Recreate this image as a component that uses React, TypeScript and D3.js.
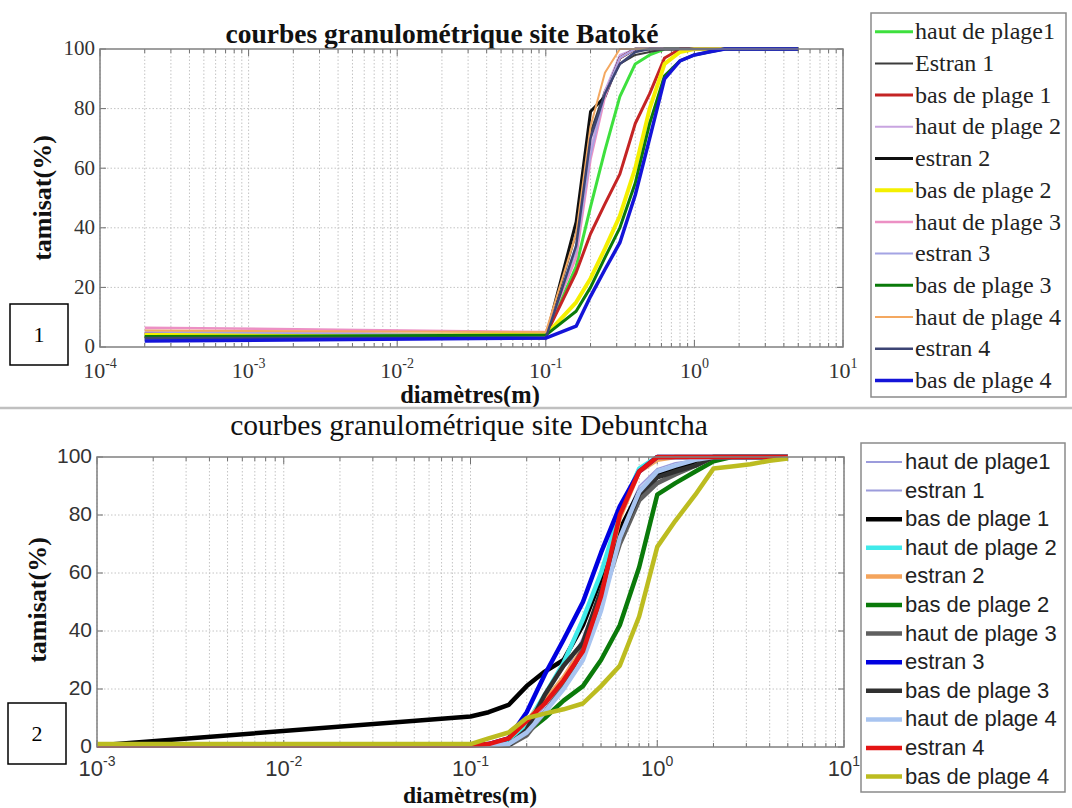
import React from "react";
import * as d3 from "d3";

// ---------- Chart 1 : Batoké ----------
const sieves1 = [0.0002, 0.1, 0.16, 0.2, 0.25, 0.315, 0.4, 0.5, 0.63, 0.8, 1, 1.25, 1.6, 2, 2.5, 3.15, 4, 5];
const names1 = ["haut de plage1", "Estran 1", "bas de plage 1", "haut de plage 2", "estran 2", "bas de plage 2", "haut de plage 3", "estran 3", "bas de plage 3", "haut de plage 4", "estran 4", "bas de plage 4"];
const colors1 = ["#3ee03e", "#3c3c3c", "#c42424", "#c8a4e0", "#101010", "#f4f000", "#ec90c4", "#a4a4e4", "#0a7a0a", "#f4a860", "#3c4474", "#1414d8"];
const widths1 = [3, 2, 3, 2, 3, 4, 2.5, 1.5, 3, 2, 2.5, 3.5];
const hautPlage1_1 = [4, 4, 27, 47, 66, 84, 95, 98, 100, 100, 100, 100, 100, 100, 100, 100, 100, 100];
const estran1_1 = [3.5, 3.5, 38, 72, 86, 95, 98, 99, 100, 100, 100, 100, 100, 100, 100, 100, 100, 100];
const basPlage1_1 = [4.5, 4, 25, 38, 48, 58, 75, 85, 97, 100, 100, 100, 100, 100, 100, 100, 100, 100];
const hautPlage2_1 = [5.5, 4, 33, 66, 86, 98, 100, 100, 100, 100, 100, 100, 100, 100, 100, 100, 100, 100];
const estran2_1 = [3, 3, 42, 79, 84, 97, 100, 100, 100, 100, 100, 100, 100, 100, 100, 100, 100, 100];
const basPlage2_1 = [4, 4, 15, 23, 33, 44, 60, 80, 95, 99, 100, 100, 100, 100, 100, 100, 100, 100];
const hautPlage3_1 = [6.5, 5, 30, 63, 84, 97, 100, 100, 100, 100, 100, 100, 100, 100, 100, 100, 100, 100];
const estran3_1 = [5, 4, 32, 64, 85, 97, 100, 100, 100, 100, 100, 100, 100, 100, 100, 100, 100, 100];
const basPlage3_1 = [3.5, 4, 12, 20, 30, 40, 55, 75, 91, 96, 98, 99, 100, 100, 100, 100, 100, 100];
const hautPlage4_1 = [5.5, 5, 38, 74, 92, 100, 100, 100, 100, 100, 100, 100, 100, 100, 100, 100, 100, 100];
const estran4_1 = [3, 3, 34, 70, 85, 95, 99, 100, 100, 100, 100, 100, 100, 100, 100, 100, 100, 100];
const basPlage4_1 = [2, 3, 7, 17, 26, 35, 51, 70, 90, 96, 98, 99, 100, 100, 100, 100, 100, 100];
const values1 = [hautPlage1_1, estran1_1, basPlage1_1, hautPlage2_1, estran2_1, basPlage2_1, hautPlage3_1, estran3_1, basPlage3_1, hautPlage4_1, estran4_1, basPlage4_1];

// ---------- Chart 2 : Debuntcha ----------
const sieves2 = [0.001, 0.1, 0.125, 0.16, 0.2, 0.25, 0.315, 0.4, 0.5, 0.63, 0.8, 1, 1.25, 1.6, 2, 2.5, 3.15, 4, 5];
const names2 = ["haut de plage1", "estran 1", "bas de plage 1", "haut de plage 2", "estran 2", "bas de plage 2", "haut de plage 3", "estran 3", "bas de plage 3", "haut de plage 4", "estran 4", "bas de plage 4"];
const colors2 = ["#9c9cdc", "#9c9cdc", "#000000", "#40eaea", "#f4a45c", "#0a7a0a", "#606060", "#0000e0", "#303030", "#a8c4f0", "#e41414", "#bcbc20"];
const widths2 = [1.5, 1.5, 4.5, 4.5, 4.5, 4.5, 4.5, 4.5, 4.5, 4.5, 4.5, 4.5];
const hautPlage1_2 = [0.5, 0.5, 0.5, 1, 6, 14, 24, 38, 54, 75, 90, 96, 98, 99, 100, 100, 100, 100, 100];
const estran1_2 = [0.5, 0.5, 0.5, 1, 5, 13, 22, 36, 52, 73, 89, 95, 97, 99, 100, 100, 100, 100, 100];
const basPlage1_2 = [0.5, 10.5, 12, 14.5, 21, 26, 30, 42, 58, 75, 88, 94, 96, 98, 100, 100, 100, 100, 100];
const hautPlage2_2 = [0.5, 0.5, 1, 2, 8, 18, 29, 44, 60, 81, 96, 100, 100, 100, 100, 100, 100, 100, 100];
const estran2_2 = [0.5, 0.5, 1, 3, 9, 16, 24, 34, 52, 79, 95, 99, 100, 100, 100, 100, 100, 100, 100];
const basPlage2_2 = [0.5, 0.5, 0.5, 1, 5, 10, 16, 21, 30, 42, 62, 87, 91, 95, 98.5, 100, 100, 100, 100];
const hautPlage3_2 = [0.5, 0.5, 0.5, 0.5, 4, 12, 21, 34, 50, 70, 85, 91, 94, 97, 100, 100, 100, 100, 100];
const estran3_2 = [0.5, 0.5, 1, 3, 12, 25, 37, 50, 67, 83, 95, 100, 100, 100, 100, 100, 100, 100, 100];
const basPlage3_2 = [0.5, 0.5, 0.5, 0.5, 6, 18, 28, 36, 54, 72, 87, 93, 95, 97, 100, 100, 100, 100, 100];
const hautPlage4_2 = [0.5, 0.5, 0.5, 1, 5, 12, 20, 30, 47, 72, 88, 95, 97, 99, 100, 100, 100, 100, 100];
const estran4_2 = [0.5, 0.5, 1, 3, 9, 15, 23, 33, 52, 80, 95, 100, 100, 100, 100, 100, 100, 100, 100];
const basPlage4_2 = [1, 1, 3, 5, 10, 11.5, 13, 15, 21, 28, 45, 69, 78, 87, 96, 96.7, 97.5, 98.7, 99.5];
const values2 = [hautPlage1_2, estran1_2, basPlage1_2, hautPlage2_2, estran2_2, basPlage2_2, hautPlage3_2, estran3_2, basPlage3_2, hautPlage4_2, estran4_2, basPlage4_2];

const yTicks = [0, 20, 40, 60, 80, 100];

type PanelProps = {
  x0: number; x1: number; yTop: number; yBot: number;
  dom: [number, number];
  sieves: number[]; values: number[][]; colors: string[]; widths: number[];
  tickFont: string; tickSize: number; expSize: number; tickBase: number;
};

function logTicks(dom: [number, number]) {
  const out: number[] = [];
  const a = Math.round(Math.log10(dom[0]));
  const b = Math.round(Math.log10(dom[1]));
  for (let d = a; d <= b; d++) {
    for (let m = 1; m <= 9; m++) {
      const v = m * Math.pow(10, d);
      if (v >= dom[0] * 0.999 && v <= dom[1] * 1.001) out.push(v);
    }
  }
  return out;
}

function Panel(p: PanelProps) {
  const x = d3.scaleLog().domain(p.dom).range([p.x0, p.x1]);
  const y = d3.scaleLinear().domain([0, 100]).range([p.yBot, p.yTop]);
  const ticks = logTicks(p.dom);
  const majors = ticks.filter((t) => Math.abs(Math.log10(t) - Math.round(Math.log10(t))) < 1e-6);
  const line = d3.line<[number, number]>().x((d) => x(d[0])).y((d) => y(d[1]));
  const grid = "#c4c4c4";
  return (
    <g>
      {ticks.map((t, i) => (
        <line key={"gv" + i} x1={x(t)} x2={x(t)} y1={p.yTop} y2={p.yBot} stroke={grid} strokeWidth={1} strokeDasharray="1.5 2" />
      ))}
      {yTicks.slice(1, -1).map((t, i) => (
        <line key={"gh" + i} x1={p.x0} x2={p.x1} y1={y(t)} y2={y(t)} stroke={grid} strokeWidth={1} strokeDasharray="1.5 2" />
      ))}
      {ticks.map((t, i) => {
        const len = majors.includes(t) ? 7 : 4;
        return (
          <g key={"tk" + i}>
            <line x1={x(t)} x2={x(t)} y1={p.yBot} y2={p.yBot - len} stroke="#707070" />
            <line x1={x(t)} x2={x(t)} y1={p.yTop} y2={p.yTop + len} stroke="#707070" />
          </g>
        );
      })}
      {yTicks.map((t, i) => (
        <g key={"ty" + i}>
          <line x1={p.x0} x2={p.x0 + 6} y1={y(t)} y2={y(t)} stroke="#707070" />
          <line x1={p.x1} x2={p.x1 - 6} y1={y(t)} y2={y(t)} stroke="#707070" />
          <text x={p.x0 - 5} y={y(t) + p.tickSize * 0.3} textAnchor="end" fontFamily={p.tickFont} fontSize={p.tickSize} fill="#333">{t}</text>
        </g>
      ))}
      {majors.map((t, i) => (
        <text key={"tx" + i} x={x(t)} y={p.tickBase} textAnchor="middle" fontFamily={p.tickFont} fontSize={p.tickSize + 1} fill="#333">
          <tspan>10</tspan>
          <tspan dy={-10} fontSize={p.expSize}>{String(Math.round(Math.log10(t)))}</tspan>
        </text>
      ))}
      {p.values.map((vals, i) => (
        <path key={"s" + i} d={line(p.sieves.map((s, j) => [s, vals[j]] as [number, number])) || ""} fill="none" stroke={p.colors[i]} strokeWidth={p.widths[i]} strokeLinejoin="round" />
      ))}
      <rect x={p.x0} y={p.yTop} width={p.x1 - p.x0} height={p.yBot - p.yTop} fill="none" stroke="#808080" strokeWidth={1.5} />
    </g>
  );
}

function Legend(props: { x: number; y: number; w: number; h: number; first: number; step: number; lx0: number; lx1: number; tx: number; names: string[]; colors: string[]; widths: number[]; font: string; size: number }) {
  const p = props;
  return (
    <g>
      <rect x={p.x} y={p.y} width={p.w} height={p.h} fill="#fff" stroke="#8a8a8a" strokeWidth={1.5} />
      {p.names.map((n, i) => {
        const yy = p.first + i * p.step;
        return (
          <g key={i}>
            <line x1={p.lx0} x2={p.lx1} y1={yy} y2={yy} stroke={p.colors[i]} strokeWidth={Math.max(p.widths[i], 2)} />
            <text x={p.tx} y={yy + p.size * 0.32} fontFamily={p.font} fontSize={p.size} fill="#222">{n}</text>
          </g>
        );
      })}
    </g>
  );
}

export default function App() {
  const serif = "'Liberation Serif', 'Times New Roman', serif";
  const sans = "'Liberation Sans', Arial, sans-serif";
  return (
    <svg width={1072} height={808} style={{ position: "absolute", left: 0, top: 0, background: "#fff" }}>
      <rect x={0} y={0} width={1072} height={808} fill="#fff" />
      {/* Panel 1 */}
      <text x={442} y={43} textAnchor="middle" fontFamily={serif} fontWeight="bold" fontSize={27.5} fill="#111">courbes granulométrique site Batoké</text>
      <Panel x0={100} x1={843} yTop={49} yBot={347} dom={[1e-4, 10]} sieves={sieves1} values={values1} colors={colors1} widths={widths1} tickFont={serif} tickSize={21} expSize={14} tickBase={378} />
      <text x={470} y={403} textAnchor="middle" fontFamily={serif} fontWeight="bold" fontSize={24.5} fill="#111">diamètres(m)</text>
      <text transform="translate(51,198) rotate(-90)" textAnchor="middle" fontFamily={serif} fontWeight="bold" fontSize={26} fill="#111">tamisat(%)</text>
      <rect x={10} y={304} width={58} height={61} fill="#fff" stroke="#000" strokeWidth={1.5} />
      <text x={39} y={342} textAnchor="middle" fontFamily={serif} fontSize={22} fill="#000">1</text>
      <Legend x={871} y={13} w={195} h={384} first={31.7} step={31.7} lx0={875} lx1={913} tx={915} names={names1} colors={colors1} widths={widths1} font={serif} size={24} />

      <line x1={0} x2={1072} y1={408} y2={408} stroke="#c0c0c0" strokeWidth={2.5} />

      {/* Panel 2 */}
      <text x={469} y={435} textAnchor="middle" fontFamily={serif} fontSize={29.5} fill="#111">courbes granulométrique site Debuntcha</text>
      <Panel x0={97} x1={844} yTop={457} yBot={747} dom={[1e-3, 10]} sieves={sieves2} values={values2} colors={colors2} widths={widths2} tickFont={sans} tickSize={21} expSize={14} tickBase={776} />
      <text x={470} y={803} textAnchor="middle" fontFamily={serif} fontWeight="bold" fontSize={23.5} fill="#111">diamètres(m)</text>
      <text transform="translate(46,600) rotate(-90)" textAnchor="middle" fontFamily={serif} fontWeight="bold" fontSize={26} fill="#111">tamisat(%)</text>
      <rect x={8} y={703} width={58} height={61} fill="#fff" stroke="#000" strokeWidth={1.5} />
      <text x={37} y={741} textAnchor="middle" fontFamily={serif} fontSize={22} fill="#000">2</text>
      <Legend x={861} y={443} w={204} h={349} first={462} step={28.6} lx0={866} lx1={902} tx={905} names={names2} colors={colors2} widths={widths2} font={sans} size={22} />
    </svg>
  );
}
